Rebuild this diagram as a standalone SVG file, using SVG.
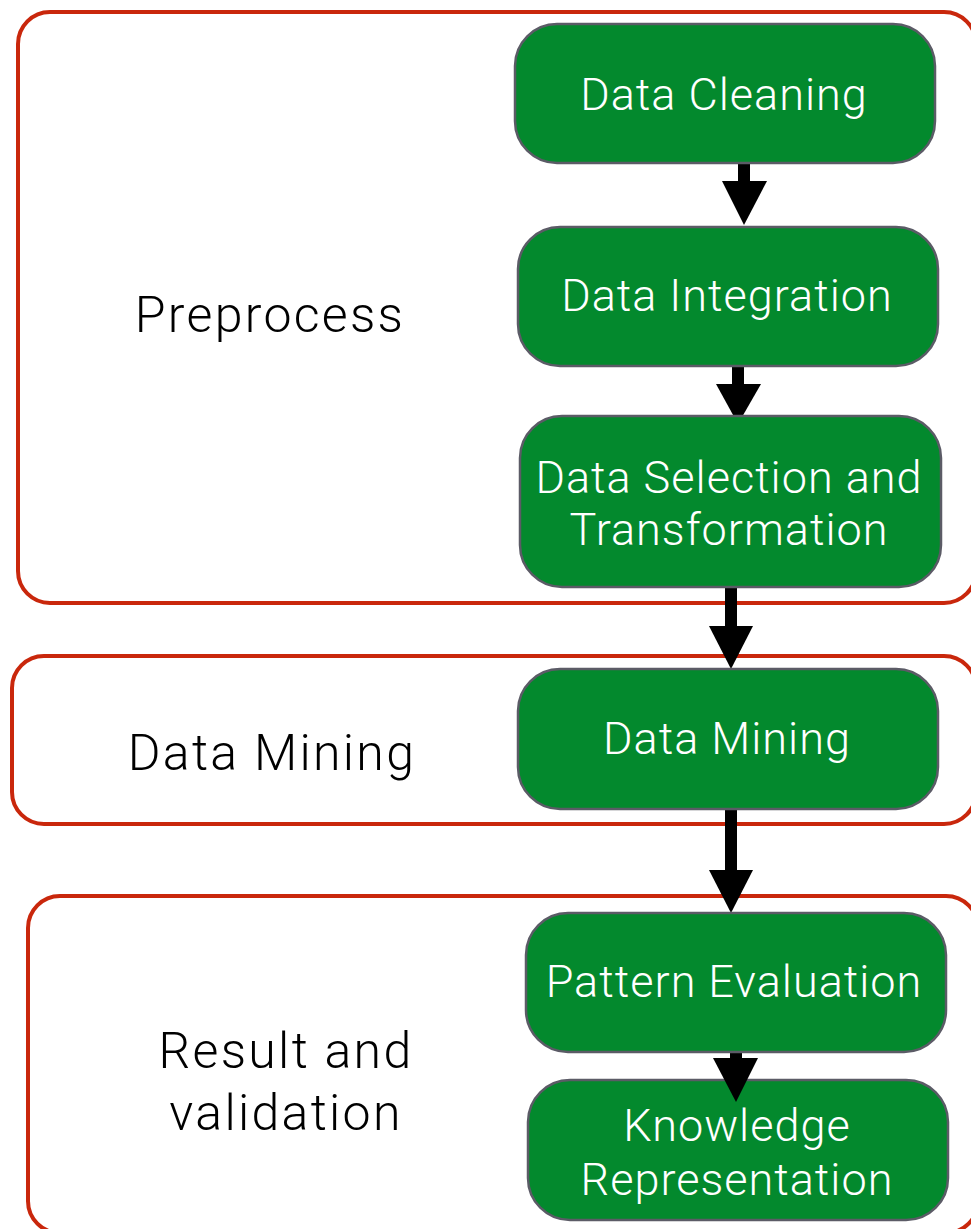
<svg xmlns="http://www.w3.org/2000/svg" width="971" height="1229" viewBox="0 0 971 1229">
<defs>
<style>
.grp{fill:none;stroke:#c9270c;stroke-width:4}
.box{fill:#03892d;stroke:#5b5b66;stroke-width:2.5}
.nt{fill:#fff;font-family:Roboto,"Liberation Sans",sans-serif;font-weight:300;font-size:45px;letter-spacing:1px;text-anchor:middle}
.gt{fill:#000;font-family:Roboto,"Liberation Sans",sans-serif;font-weight:300;font-size:50px;letter-spacing:2.3px;text-anchor:middle}
.sh{fill:#000}
</style>
</defs>
<rect width="971" height="1229" fill="#fff"/>
<g id="group-preprocess">
<rect class="grp" x="18" y="12" width="958" height="591" rx="32"/>
<text class="gt" x="270" y="332">Preprocess</text>
</g>
<g id="group-datamining">
<rect class="grp" x="12" y="656" width="964" height="168" rx="32"/>
<text class="gt" x="272" y="770">Data Mining</text>
</g>
<g id="group-result">
<rect class="grp" x="28" y="896" width="950" height="337" rx="32"/>
<text class="gt" x="286" y="1068">Result and</text>
<text class="gt" x="286" y="1130">validation</text>
</g>
<g id="connectors">
<rect class="sh" x="738" y="162" width="12" height="20"/>
<polygon class="sh" points="722,181 767,181 744,225"/>
<rect class="sh" x="732" y="365" width="12" height="20"/>
<polygon class="sh" points="716,384 761,384 738,424"/>
<rect class="sh" x="725" y="586" width="12" height="41"/>
<polygon class="sh" points="709,626 753,626 731,669"/>
<rect class="sh" x="725" y="808" width="12" height="63"/>
<polygon class="sh" points="709,870 753,870 731,913"/>
<rect class="sh" x="730" y="1045" width="12" height="14"/>
</g>
<g id="node-cleaning">
<rect class="box" x="515" y="24" width="420" height="139" rx="42"/>
<text class="nt" x="724" y="110">Data Cleaning</text>
</g>
<g id="node-integration">
<rect class="box" x="518" y="227" width="420" height="139" rx="42"/>
<text class="nt" x="727" y="311">Data Integration</text>
</g>
<g id="node-selection">
<rect class="box" x="520" y="416" width="421" height="171" rx="42"/>
<text class="nt" x="729" y="493">Data Selection and</text>
<text class="nt" x="729" y="545">Transformation</text>
</g>
<g id="node-mining">
<rect class="box" x="518" y="669" width="420" height="140" rx="42"/>
<text class="nt" x="727" y="754">Data Mining</text>
</g>
<g id="node-pattern">
<rect class="box" x="526" y="913" width="420" height="139" rx="42"/>
<text class="nt" x="734" y="997">Pattern Evaluation</text>
</g>
<g id="node-knowledge">
<rect class="box" x="528" y="1080" width="420" height="140" rx="42"/>
<text class="nt" x="737" y="1141">Knowledge</text>
<text class="nt" x="737" y="1195">Representation</text>
</g>
<g id="connector-head-5">
<polygon class="sh" points="713,1058 758,1058 736,1102"/>
</g>
</svg>
